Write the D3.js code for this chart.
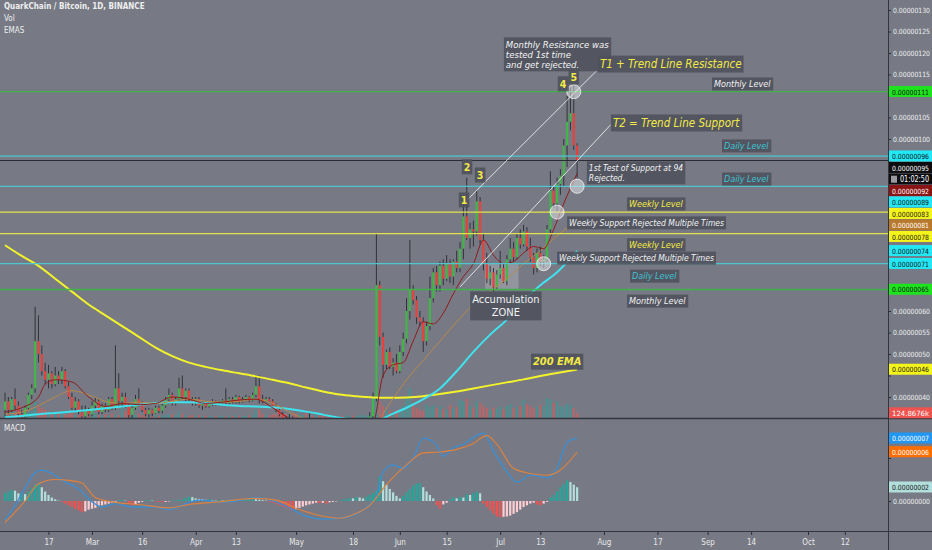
<!DOCTYPE html>
<html><head><meta charset="utf-8">
<script src="https://cdn.jsdelivr.net/npm/d3@7"></script>
<style>
html,body{margin:0;padding:0;background:#777a85;overflow:hidden}
svg{display:block}
text{font-family:'Liberation Sans Narrow','DejaVu Sans Condensed',sans-serif}
</style></head><body><svg id="c" width="932" height="550"></svg>
<script>
// ---------------- DATA (prices in units of 1e-8 BTC) ----------------
const startDay = Date.UTC(2020, 1, 4); // first daily candle: 2020-02-04
// [open, high, low, close] per day, Feb 4 2020 -> Jul 24 2020
const candles = [
 // Feb 4-12
 [37,41,35.5,39],[39,40,36,37],[37,40,36.5,39.5],[39.5,42,37,38],[38,39,35,36],[36,37,35,35.5],[35.5,38,35,37.5],[37.5,41,37,40.5],[40.5,43,39.5,42],
 // Feb 13-29
 [42,61,41,53],[53,59,48,50],[50,52,45,46],[46,48,43,44],[44,47.5,42,45.5],[45.5,46,42,43],[43,47,42.5,45],[45,46,43,44],[44,47,43,46],[46,46.5,42,42.5],[42.5,43.5,39.5,40],[40,41,37,37.5],[37.5,40,36.5,39],[39,39.5,36,36.5],[36.5,38,35,35.5],[35.5,38,35,37],[37,37.5,35.5,36],
 // Mar
 [36,39,35.5,38],[38,40,37,39],[39,39.5,36,36.5],[36.5,38.5,36,38],[38,38.5,36.5,37],[37,40,36.5,39.5],[39.5,40,37,37.5],[37.5,52,37,42],[42,45.5,38,39],[39,41,37.5,40],
 [40,41,37.5,38],[38,38.5,35,35.8],[35.8,38,35,37.5],[37.5,40.5,37,39.5],[39.5,42,38,38.5],[38.5,39,36.5,37],[37,37.5,35.5,36],[36,37.5,35.3,37],[37,37.2,35.5,36.2],[36.2,38,36,37.5],
 [37.5,38,36.2,36.8],[36.8,38.5,36.2,38],[38,40,37.5,39.5],[39.5,42,38.5,40.5],[40.5,41,38,38.5],[38.5,40,38,39.5],[39.5,44.5,39,42],[42,45,39.5,40],[40,42,39,41.5],[41.5,42,39,39.5],[39.5,40,38,38.5],
 // Apr
 [38.5,40,38,39.5],[39.5,40,37.5,38],[38,39,37,38.5],[38.5,39,37.5,37.8],[37.8,39,37.5,38.5],[38.5,39.5,38,39],[39,39.2,38,38.3],[38.3,39,38,38.8],[38.8,39.5,38.5,39.2],[39.2,42,38.3,38.6],
 [38.6,40,38.3,39.5],[39.5,40,38.5,38.8],[38.8,40.5,38.5,40],[40,40.3,38.5,39],[39,40,38.7,39.5],[39.5,40.5,39,40],[40,40.2,38.8,39.2],[39.2,41,39,40.5],[40.5,45,40,42.5],[42.5,45,38.5,39.5],
 [39.5,40.5,38.5,39],[39,40,38.8,39.5],[39.5,40,38.8,39],[39,39.5,37.5,38],[38,38.5,36.5,37],[37,37.5,35.5,36],[36,36.5,34.5,35],[35,35.5,33.5,34],[34,36,33.5,35],[35,35.5,33,33.5],
 // May 1-24
 [33.5,34.5,32.5,33],[33,34,32,33.5],[33.5,34.5,33,34],[34,34.5,32.5,33],[33,36.2,32.5,34],[34,34.5,32,32.5],[32.5,33.5,31.5,33],[33,34,32,32.5],[32.5,33,31,31.5],[31.5,32.5,30,31],
 [31,32,29.5,30.5],[30.5,32,30,31.5],[31.5,32.5,30.5,31],[31,33,30.5,32.5],[32.5,33.5,31.5,32],[32,33,31.5,32.5],[32.5,34,32,33.5],[33.5,34,32,32.5],[32.5,33.5,32,33],[33,34,32.5,33.5],
 [33.5,34.5,32.8,34],[34,35,33,34.5],[34.5,36.5,33.5,35.5],[35.5,41,34.5,40],
 // May 25-31
 [40,78,39,66],[66,67,52,54],[54,55,44.5,47.5],[47.5,51,46.5,50.5],[50.5,51.5,46.5,47],[47,49,45,48],[48,50,45.5,46],
 // Jun
 [46,52,45.5,50.5],[50.5,55,49.5,53.5],[53.5,63,52.5,60],[60,76.5,58,65],[65,66,61.5,62.5],[62.5,63.5,57,58.5],[58.5,60,56.5,57.5],[57.5,58.5,50.5,53],[53,57.5,52,56.5],[56.5,68,55.5,63],
 [63,70,62,69],[69,70.5,64.5,66],[66,71.5,64.5,70.5],[70.5,72,66,67.5],[67.5,73,67,71],[71,72,66.5,68],[68,72,66,71.5],[71.5,74,69,70],[70,76,69,74.5],[74.5,85,72,82],
 [82,91,76.5,77],[77,80.5,74.5,79],[79,81,75,78.5],[78.5,88,77.5,85.5],[85.5,86.5,75.5,76.5],[76.5,78,69.5,71],[71,73.5,66.5,67.5],[67.5,70.5,66,69],[69,70,64.5,65.5],[65.5,69.5,65,68.5],
 // Jul 1-24
 [68.5,74,67.5,70],[70,71,66.5,67],[67,73,66,72],[72,77,71,74.5],[74.5,76,71.5,72.5],[72.5,78,72,77],[77,79,74.5,75.5],[75.5,80,75,78.5],[78.5,79.5,74,75],[75,77,71.5,72.5],
 [72.5,73.5,68.5,70],[70,74.5,69,73.5],[73.5,75,70.5,71.5],[71.5,73,70,72],[72,80,71.5,79],[79,92.5,78,88],[88,89,84,85],[85,91,83,89.5],[89.5,93,87,91.5],[91.5,100,89,98.5],
 [98.5,110,93.5,104],[104,112,102,106],[106,112.5,97.5,98.5],[98.5,99,91,95]
];
// daily volume (thousands)
const volumes = [
 120,90,150,110,80,60,100,140,180,
 420,300,250,200,150,120,160,
 110,130,90,100,140,80,70,90,60,80,
 100,120,70,60,90,60,110,80,70,250,180,90,60,80,110,
 70,60,50,60,70,50,60,80,90,100,70,160,120,80,60,70,
 60,70,50,60,50,40,50,60,50,40,60,50,70,60,50,60,70,80,200,220,100,80,70,90,110,130,120,100,90,120,
 90,80,70,110,60,50,70,60,50,40,50,60,50,40,60,70,50,60,50,70,80,60,90,250,
 480,420,300,200,180,150,200,
 220,300,500,750,300,250,200,180,350,280,
 320,250,300,220,200,330,250,280,450,420,
 480,300,260,420,380,300,250,200,260,230,
 280,220,300,350,250,280,300,460,350,300,
 250,280,320,300,500,460,380,420,300,280,
 360,320,250,124.8676
];
// EMA lines, sampled (day offset from Feb 4, value)
const ema200Days = [0,5,10,15,20,25,30,35,40,45,50,55,60,65,70,75,80,85,90,95,100,105,110,115,120,125,130,135,140,145,150,155,160,165,171];
const ema200Vals = [75.3,72.8,70.5,67.5,64.5,61.5,59,56.5,54,51.5,49.5,48,47,46.2,45.5,44.8,44,43.2,42.2,41.3,40.6,40.2,39.9,39.8,39.9,40.2,40.7,41.3,42,42.7,43.4,44.1,44.9,45.6,46.4];
const ema50Days = [0,5,10,15,20,25,30,35,40,45,50,55,60,65,70,75,80,85,90,95,100,105,111,115,120,125,130,135,140,145,150,155,160,165,171];
const ema50Vals = [35.3,35.6,36,36.3,36.6,37,37.4,37.8,38.2,38.6,38.8,38.8,38.6,38.2,37.9,37.8,37.6,37.2,36.6,35.9,35.2,34.6,34.5,35.8,37.5,39.5,42,46,50.5,54.5,58,62.5,66,69,74];
const ema21Days = [0,5,10,15,20,25,30,35,40,45,50,55,60,65,70,75,80,85,90,95,100,105,110,115,120,125,130,135,140,145,150,155,160,165,171];
const ema21Vals = [36,36.5,38,40,41.5,40.5,39,38.5,38.8,38.5,39,39.5,39,38.8,39,39.5,38.5,36.5,34.8,33.8,33,33,33.5,38.5,44,48.5,53,57.5,61.5,64.5,67.5,71,74,77.5,81];
const ema9Days = [0,5,10,12,15,20,25,30,35,40,45,50,55,60,65,70,75,80,85,90,95,100,105,110,113,116,119,122,125,128,131,134,137,140,143,146,149,152,155,158,161,164,167,171];
const ema9Vals = [36.5,37.5,40,43,44,43.5,40,37.8,38.5,38.2,38.5,40,39.5,38.5,38.8,39.3,39.5,37.5,35,33.3,33,32,32.5,33.8,45,47.5,48,53,57.5,57,59.5,64,68,71,76.5,73,71,71.5,73.5,75,74.5,79,85,92];
// MACD (sampled) and histogram (daily)
const macdDays = [0,3,6,9,11,14,18,22,26,29,33,38,45,49,54,58,64,69,75,81,86,90,95,100,105,109,111,113,116,119,122,125,129,131,134,137,140,143,146,150,153,157,162,165,168,171];
const macdVals = [-2.2,-0.5,1.5,3.3,3.6,3.2,2.2,1.4,-0.1,-0.7,-0.3,-0.7,-0.7,-1.0,-0.3,0.1,-0.1,0,0.4,-0.1,-1.0,-1.8,-2.1,-2.0,-1.5,-0.4,0.5,3.4,4.2,3.8,5.0,7.3,6.5,5.2,6.2,6.6,7.4,7.9,5.8,3.4,2.2,3.0,2.7,3.8,6.8,7.3];
const signalDays = [0,6,10,15,19,23,27,32,40,49,55,64,75,81,88,93,100,104,109,114,120,125,130,135,140,144,147,152,157,162,166,171];
const signalVals = [-2.5,0,2.0,2.5,2.4,2.1,0.4,-0.1,-0.4,-0.8,-0.4,-0.1,0.3,0.1,-1.0,-1.6,-2.0,-1.6,-0.5,1.9,4.2,5.6,5.7,6.0,6.7,7.6,6.6,3.8,3.2,3.0,3.6,5.7];
const histVals = [
 0.9,1.1,1.3,1.2, 0.9,1.0,0.8, 1.1,1.5,1.9,2.0, 1.6,1.1,0.7,0.4, 0.2,0.05,
 -0.1,-0.3,-0.5,-0.7,-0.9,-1.1,-1.3, -1.2,-1.0,-0.9,-0.8,-0.6,-0.5,-0.4,-0.3,-0.2,
 -0.1,0.1,0.15,0.05, -0.3,-0.5,-0.4,
 -0.2,-0.1,0.05,0.1,0.05,-0.05,-0.1,-0.15,-0.1,-0.05,0.05,0.1,0.15,0.2,
 0.35,0.5,0.45,0.3, 0.25,0.2,0.15,0.2,0.1,0.05,0.1,
 0.05,0.1,0.15,0.05,-0.05,0.05,0.1,0.15,0.2, 0.25,0.2,0.15,0.1,0.05,-0.1,
 -0.2,-0.35,-0.5,-0.65,-0.8,-0.95,-1.05, -0.95,-0.8,-0.65,-0.5,-0.4,-0.3,-0.2,
 -0.25,-0.2,-0.3,-0.15,-0.1,-0.05,0.05, 0.15,0.25,0.35,0.3,0.45,0.4,
 0.3,0.5,0.7,0.9,1.2, 2.8, 2.3,1.9,1.4,1.0,0.6,0.3, 0.6,1.0,1.4,1.8,2.0,2.1,
 1.6,1.1,0.7,0.3, -0.5,-0.9,-0.4, -0.2,0.2,0.4,0.3,0.5,0.4, 0.8,0.7,0.9,1.1,0.9,
 -0.3,-0.7,-1.1,-1.5,-1.8,-1.9, -1.85,-1.8,-1.7,-1.5,-1.3,-1.0,-0.7,-0.5,-0.3,
 -0.2,-0.4,-0.5,-0.3,-0.1, 0.4,0.7,1.1,1.6,2.0,2.4, 2.2,1.9,1.6
];
// horizontal levels
const levelValues = [111, 96, 89, 83, 78, 71, 65];
const levelKinds  = ['monthly','daily','daily','weekly','weekly','daily','monthly'];
// axis ticks
const priceTicks = [130,125,120,115,110,105,100,95,90,85,80,75,70,65,60,55,50,45,40];
const macdTicks = [5, 0];
const dateTicks = ['2020-02-17','2020-03-01','2020-03-16','2020-04-01','2020-04-13','2020-05-01','2020-05-18','2020-06-01','2020-06-15','2020-07-01','2020-07-13','2020-08-01','2020-08-17','2020-09-01','2020-09-14','2020-10-01','2020-10-12'];
const dateTickLabels = ['17','Mar','16','Apr','13','May','18','Jun','15','Jul','13','Aug','17','Sep','14','Oct','12'];
// trend lines [day, price] pairs
const trendT1 = [[137.2, 85.1],[177, 116]];
const trendT2 = [[136, 65.6],[181, 103.3]];
// highlighted touches [day, price]
const touches = [[170, 111],[171, 89],[165, 83],[161, 71]];
const accumZone = {from: 143.5, to: 153.5, low: 65, high: 71};
const timerText = '01:02:50';

// ---------------- SETUP ----------------
const W = 932, H = 550, PR = 888, MAIN_B = 418, MACD_T = 419, MACD_B = 531;
const DAY = 86400000;
const dt = d => new Date(startDay + d * DAY);
const svg = d3.select('#c');
const x = d3.scaleUtc().domain([new Date(Date.UTC(2020,2,1)), new Date(Date.UTC(2020,9,1))]).range([92, 808]);
const y = d3.scaleLinear().domain([40,130]).range([397,10]);
const yVol = d3.scaleLinear().domain([0,1000]).range([MAIN_B, MAIN_B-40]);
const yM = d3.scaleLinear().domain([0,5]).range([501,458]);
const fmt = v => (v*1e-8).toFixed(8);
const bw = 2.2;
const LBL_W = 37; // width allotted to price-scale numbers

const defs = svg.append('defs');
defs.append('clipPath').attr('id','cm').append('rect').attr('x',0).attr('y',0).attr('width',PR).attr('height',MAIN_B);
defs.append('clipPath').attr('id','cd').append('rect').attr('x',0).attr('y',MACD_T).attr('width',PR).attr('height',MACD_B-MACD_T);

svg.append('rect').attr('width',W).attr('height',H).attr('fill','#777a85');

const main = svg.append('g').attr('clip-path','url(#cm)');

// volume
main.append('g').selectAll('rect').data(volumes).join('rect')
  .attr('x',(v,i)=>x(dt(i))-bw/2).attr('width',bw)
  .attr('y',v=>yVol(v)).attr('height',v=>MAIN_B-yVol(v))
  .attr('fill',(v,i)=>candles[i][3]>=candles[i][0]?'rgba(38,166,154,0.55)':'rgba(239,83,80,0.55)');

// accumulation zone
main.append('rect').attr('x',x(dt(accumZone.from))).attr('width',x(dt(accumZone.to))-x(dt(accumZone.from)))
  .attr('y',y(accumZone.high)).attr('height',y(accumZone.low)-y(accumZone.high)).attr('fill','rgba(200,200,205,0.35)');

// candles
const cg = main.append('g');
cg.selectAll('line').data(candles).join('line')
  .attr('x1',(c,i)=>x(dt(i))).attr('x2',(c,i)=>x(dt(i)))
  .attr('y1',c=>y(c[1])).attr('y2',c=>y(c[2])).attr('stroke','#2a2a30').attr('stroke-width',0.9);
cg.selectAll('rect').data(candles).join('rect')
  .attr('x',(c,i)=>x(dt(i))-bw/2).attr('width',bw)
  .attr('y',c=>y(Math.max(c[0],c[3]))).attr('height',c=>Math.max(1,Math.abs(y(c[0])-y(c[3]))))
  .attr('fill',c=>c[3]>=c[0]?'#43b649':'#e8423d');

// EMA lines
function drawLine(g, days, vals, ys, color, w){
  const pts = days.map((d,i)=>[x(dt(d)), ys(vals[i])]);
  g.append('path').attr('d',d3.line().curve(d3.curveMonotoneX)(pts)).attr('fill','none').attr('stroke',color).attr('stroke-width',w);
}
drawLine(main, ema200Days, ema200Vals, y, '#f3f32b', 2);
drawLine(main, ema50Days, ema50Vals, y, '#3fe3ef', 2);
drawLine(main, ema21Days, ema21Vals, y, '#b9894a', 1);
drawLine(main, ema9Days, ema9Vals, y, '#8e1b1b', 1);

// levels
const levelColor = {monthly:'#3fb24b', daily:'#4ec5cf', weekly:'#e4e24a'};
main.append('g').selectAll('line').data(levelValues).join('line')
  .attr('x1',0).attr('x2',PR).attr('y1',v=>y(v)).attr('y2',v=>y(v))
  .attr('stroke',(v,i)=>levelColor[levelKinds[i]]).attr('stroke-width',1.3);
// current price line
const lastClose = candles[candles.length-1][3];
main.append('line').attr('x1',0).attr('x2',PR).attr('y1',y(lastClose)).attr('y2',y(lastClose)).attr('stroke','#2b2b33').attr('stroke-width',1);

// trend lines
[trendT1, trendT2].forEach(t=>{
  main.append('line').attr('x1',x(dt(t[0][0]))).attr('y1',y(t[0][1])).attr('x2',x(dt(t[1][0]))).attr('y2',y(t[1][1]))
   .attr('stroke','rgba(255,255,255,0.85)').attr('stroke-width',0.9);
});
// touches
main.append('g').selectAll('circle').data(touches).join('circle')
  .attr('cx',t=>x(dt(t[0]))).attr('cy',t=>y(t[1])).attr('r',7)
  .attr('fill','rgba(235,235,240,0.5)').attr('stroke','rgba(255,255,255,0.7)').attr('stroke-width',1);

// annotations
const annG = svg.append('g');
function annot(lines, day, price, opt){
  const g = annG.append('g');
  const size = opt.size||9, lh = opt.lh||size*1.1;
  const t = g.append('text').attr('x',x(dt(day))).attr('y',y(price))
    .attr('fill',opt.color||'#f2f2f2').attr('font-size',size)
    .attr('font-style',opt.italic===false?'normal':'italic').attr('font-weight',opt.bold?'bold':'normal')
    .attr('text-anchor',opt.anchor||'start');
  lines.forEach((l,i)=>t.append('tspan').attr('x',x(dt(day))).attr('dy',i?lh:0).text(l));
  const b = t.node().getBBox();
  const p = opt.pad==null?2:opt.pad;
  g.insert('rect','text').attr('x',b.x-p).attr('y',b.y-p+0.5).attr('width',b.width+2*p).attr('height',b.height+2*p-1)
    .attr('fill','rgba(78,81,92,0.88)');
}
const WHITE='#f2f2f2', YEL='#f4ea45', CY='#3ec3d2';
annot(['Monthly Resistance was','tested 1st time','and get rejected.'], 149.7, 121.2, {size:9.5, lh:10, color:WHITE});
annot(['T1 + Trend Line Resistance'], 177.8, 116.5, {size:11.5, color:YEL});
annot(['T2 = Trend Line Support'], 181.7, 102.8, {size:11.5, color:YEL});
annot(['Monthly Level'], 211.9, 112.1, {size:9, color:WHITE});
annot(['Daily Level'], 214.9, 97.7, {size:9, color:CY});
annot(['Daily Level'], 214.9, 90, {size:9, color:CY});
annot(['1st Test of Support at 94','Rejected.'], 174.5, 92.6, {size:8.5, lh:10, color:WHITE});
annot(['Weekly Level'], 186.5, 84.2, {size:9, color:YEL});
annot(['Weekly Support Rejected Multiple Times'], 168.6, 79.8, {size:8.5, color:WHITE});
annot(['Weekly Level'], 186.5, 74.7, {size:9, color:YEL});
annot(['Weekly Support Rejected Multiple Times'], 165.6, 71.6, {size:8.5, color:WHITE});
annot(['Daily Level'], 187.4, 67.4, {size:9, color:CY});
annot(['Monthly Level'], 186.5, 61.6, {size:9, color:WHITE});
annot(['Accumulation','ZONE'], 149.7, 61.9, {size:11, lh:13, color:WHITE, italic:false, anchor:'middle'});
annot(['200 EMA'], 157.8, 47.4, {size:11, color:YEL, bold:true});
[['1',137.2,84.9],['2',138.1,92.6],['3',142,90.7],['4',166.8,111.9],['5',170,113.5]].forEach(a=>
  annot([a[0]], a[1], a[2], {size:10.5, color:YEL, bold:true, italic:false, anchor:'middle', pad:2}));

// header
const hdr = svg.append('g').attr('fill','#eeeeee').attr('font-size',8);
hdr.append('text').attr('x',4).attr('y',9).attr('font-weight','bold').text('QuarkChain / Bitcoin, 1D, BINANCE');
hdr.append('text').attr('x',4).attr('y',21).text('Vol');
hdr.append('text').attr('x',4).attr('y',33).text('EMAS');

// MACD pane
const mg = svg.append('g').attr('clip-path','url(#cd)');
const histColor = (v,i)=>{ const p = i? histVals[i-1] : v;
  if (v>=0) return v>=p ? '#26a69a' : '#b2dfdb';
  return v<p ? '#ef5350' : '#ffcdd2'; };
mg.selectAll('rect').data(histVals).join('rect')
  .attr('x',(v,i)=>x(dt(i))-bw/2).attr('width',bw)
  .attr('y',v=>Math.min(yM(v),yM(0))).attr('height',v=>Math.abs(yM(v)-yM(0)))
  .attr('fill',histColor);
drawLine(mg, macdDays, macdVals, yM, '#3a8fd6', 1.3);
drawLine(mg, signalDays, signalVals, yM, '#e0823d', 1.1);
svg.append('text').attr('x',4).attr('y',431).attr('fill','#eeeeee').attr('font-size',8).text('MACD');

// pane borders
svg.append('line').attr('x1',0).attr('x2',W).attr('y1',MAIN_B+0.5).attr('y2',MAIN_B+0.5).attr('stroke','#33363f').attr('stroke-width',1.5);
svg.append('line').attr('x1',0).attr('x2',W).attr('y1',MACD_B+0.5).attr('y2',MACD_B+0.5).attr('stroke','#33363f').attr('stroke-width',1.2);
svg.append('line').attr('x1',PR+0.5).attr('x2',PR+0.5).attr('y1',0).attr('y2',H).attr('stroke','#33363f').attr('stroke-width',1);

// x axis
const xa = svg.append('g').attr('transform',`translate(0,${MACD_B+1})`)
  .call(d3.axisBottom(x).tickValues(dateTicks.map(s=>new Date(s+'T00:00:00Z'))).tickFormat((d,i)=>dateTickLabels[i]).tickSize(3).tickPadding(4));
xa.select('.domain').remove();
xa.selectAll('line').attr('stroke','#2c2f38');
xa.selectAll('text').attr('fill','#e8e8e8').attr('font-size',8).attr('font-family',null);

// price tags (collision stacked)
const ema9Last = ema9Vals[ema9Vals.length-1], ema21Last = ema21Vals[ema21Vals.length-1];
const ema50Last = ema50Vals[ema50Vals.length-1], ema200Last = ema200Vals[ema200Vals.length-1];
const tagBg = {monthly:'#1ee41e', daily:'#22e8f5', weekly:'#f5f51a'};
let tags = levelValues.map((v,i)=>({v, bg:tagBg[levelKinds[i]], fg:'#15151a', t:fmt(v)}));
tags.push({v:lastClose, bg:'#0d0d10', fg:'#ffffff', t:fmt(lastClose)});
tags.push({v:lastClose-0.001, bg:'#0d0d10', fg:'#ffffff', t:timerText, timer:true});
tags.push({v:ema9Last, bg:'#8a1414', fg:'#ffffff', t:fmt(ema9Last)});
tags.push({v:ema21Last, bg:'#b9792a', fg:'#ffffff', t:fmt(ema21Last)});
tags.push({v:ema50Last, bg:'#22e8f5', fg:'#15151a', t:fmt(ema50Last)});
tags.push({v:ema200Last, bg:'#f5f51a', fg:'#15151a', t:fmt(ema200Last)});
tags.sort((a,b)=>b.v-a.v);
const TH = 11.5; let prevB = -1e9;
tags.forEach(t=>{ let cy = y(t.v); if (cy - TH/2 < prevB) cy = prevB + TH/2; t.cy = cy; prevB = cy + TH/2; });
const volLast = volumes[volumes.length-1];
const volTag = {cy: yVol(volLast), bg:'#ef5350', fg:'#ffffff', t: volLast.toFixed(4)+'k'};
const macdLast = macdVals[macdVals.length-1], sigLast = signalVals[signalVals.length-1], histLast = histVals[histVals.length-1];
const macdTags = [{cy:yM(macdLast), bg:'#2196f3', fg:'#fff', t:fmt(macdLast)},
 {cy:yM(sigLast), bg:'#ff6d00', fg:'#fff', t:fmt(sigLast)},
 {cy:yM(histLast), bg:'#b2dfdb', fg:'#15151a', t:fmt(histLast)}];

function styleAxisText(sel){
  sel.attr('fill','#eeeeee').attr('font-size',7.2).attr('font-family',null)
    .attr('textLength',LBL_W).attr('lengthAdjust','spacingAndGlyphs');
}
// right price axis
const ya = svg.append('g').attr('transform',`translate(${PR},0)`)
  .call(d3.axisRight(y).tickValues(priceTicks).tickFormat(fmt).tickSize(3).tickPadding(2));
ya.select('.domain').remove();
ya.selectAll('line').attr('stroke','#2c2f38');
styleAxisText(ya.selectAll('text'));
const allTags = tags.concat([volTag]);
ya.selectAll('.tick').each(function(v){
  const cy = y(v);
  if (allTags.some(t=>Math.abs(t.cy-cy) < TH) || cy > MAIN_B-6) d3.select(this).select('text').remove();
});
const ma = svg.append('g').attr('transform',`translate(${PR},0)`)
  .call(d3.axisRight(yM).tickValues(macdTicks).tickFormat(fmt).tickSize(3).tickPadding(2));
ma.select('.domain').remove();
ma.selectAll('line').attr('stroke','#2c2f38');
styleAxisText(ma.selectAll('text'));
ma.selectAll('.tick').each(function(v){
  const cy = yM(v);
  if (macdTags.some(t=>Math.abs(t.cy-cy) < TH)) d3.select(this).select('text').remove();
});

function drawTag(t){
  const g = svg.append('g');
  g.append('rect').attr('x',PR+1).attr('y',t.cy-TH/2).attr('width',W-PR-1).attr('height',TH-0.5).attr('fill',t.bg);
  if (t.timer){
    g.append('rect').attr('x',PR+3).attr('y',t.cy-3.5).attr('width',6).attr('height',7).attr('fill','#9a9aa0');
    g.append('text').attr('x',PR+12).attr('y',t.cy+3).attr('fill',t.fg).attr('font-size',8)
      .attr('textLength',29).attr('lengthAdjust','spacingAndGlyphs').text(t.t);
  } else {
    g.append('text').attr('x',PR+4).attr('y',t.cy+2.8).attr('fill',t.fg).attr('font-size',7.2)
      .attr('textLength',LBL_W).attr('lengthAdjust','spacingAndGlyphs').text(t.t);
  }
}
allTags.forEach(drawTag);
macdTags.forEach(drawTag);
</script></body></html>
